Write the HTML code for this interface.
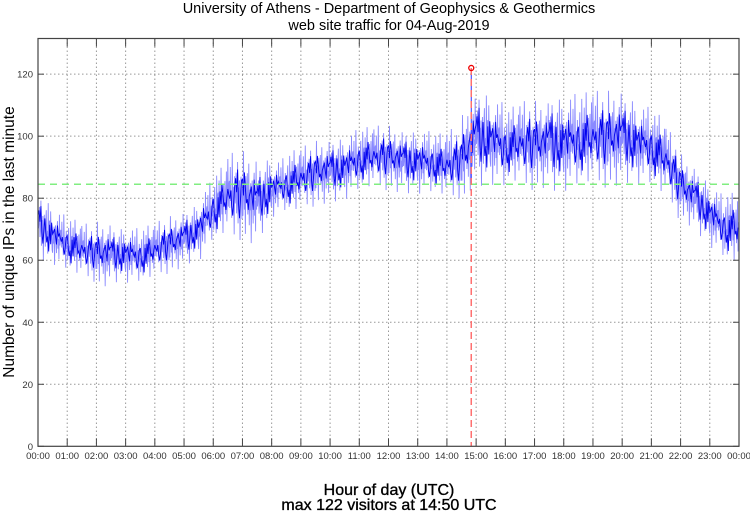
<!DOCTYPE html>
<html><head><meta charset="utf-8"><style>
body{margin:0;background:#fff;}
svg{display:block;font-family:"Liberation Sans",sans-serif;}
</style></head><body>
<svg id="chart" width="750" height="511" viewBox="0 0 750 511">
<text x="389" y="13" text-anchor="middle" font-size="14.5">University of Athens - Department of Geophysics &amp; Geothermics</text>
<text x="389" y="30" text-anchor="middle" font-size="14.5">web site traffic for 04-Aug-2019</text>
<text transform="translate(14,242) rotate(-90)" text-anchor="middle" font-size="15.5">Number of unique IPs in the last minute</text>
<text x="389" y="495" text-anchor="middle" font-size="16" stroke="#000" stroke-width="0.35">Hour of day (UTC)</text>
<text x="389" y="510" text-anchor="middle" font-size="16" stroke="#000" stroke-width="0.35">max 122 visitors at 14:50 UTC</text>
<g id="grid"></g><g id="series"></g><g id="axes"></g>
</svg>
<script>
// half-hour bins, estimated mean visitors
const binHours = [0,0.5,1,1.5,2,2.5,3,3.5,4,4.5,5,5.5,6,6.5,7,7.5,8,8.5,9,9.5,10,10.5,11,11.5,12,12.5,13,13.5,14,14.5,15,15.5,16,16.5,17,17.5,18,18.5,19,19.5,20,20.5,21,21.5,22,22.5,23,23.5];
const binMean = [72,68,65,63,62,62,62,61,63,65,67,70,76,80,81,79,83,84,86,88,89,90,92,93,93,92,92,91,90,92,100,99,96,97,97,98,98,98,99,99,100,98,96,92,84,80,75,70];
const binSpread = [8,7,7,7,8,7,7,7,7,7,7,8,9,11,11,9,7,8,8,8,8,8,8,8,8,8,8,8,9,11,12,11,10,11,11,12,12,12,12,12,11,10,10,9,8,8,8,9];
const yTicks = [0,20,40,60,80,100,120];
const xTickLabels = ["00:00","01:00","02:00","03:00","04:00","05:00","06:00","07:00","08:00","09:00","10:00","11:00","12:00","13:00","14:00","15:00","16:00","17:00","18:00","19:00","20:00","21:00","22:00","23:00","00:00"];
const maxHour = 14 + 50/60;
const maxValue = 122;
const refLevel = 84.5;

const L=38,R=739,T=38.5,B=446.3,YMAX=131.5;
const X=h=>L+(R-L)*h/24;
const Y=v=>B-(B-T)*v/YMAX;
const NS="http://www.w3.org/2000/svg";
function mk(tag,parent,attrs){const e=document.createElementNS(NS,tag);for(const k in attrs)e.setAttribute(k,attrs[k]);parent.appendChild(e);return e;}
const grid=document.getElementById('grid'),axes=document.getElementById('axes'),series=document.getElementById('series');
mk('rect',grid,{x:L,y:T,width:R-L,height:B-T,fill:'#fff'});
yTicks.forEach(v=>{
  if(v>0){const g=mk('line',grid,{x1:L,x2:R,y1:Y(v),y2:Y(v),stroke:'#999','stroke-dasharray':'1.5,2.5','stroke-width':1});
  
  }
  const t=mk('text',axes,{x:L-5,y:Y(v)+3.5,'text-anchor':'end','font-size':9.5,fill:'#333'});t.textContent=v;
  
  
  mk('line',axes,{x1:L,x2:L+6,y1:Y(v),y2:Y(v),stroke:'#444'});
  mk('line',axes,{x1:R,x2:R-6,y1:Y(v),y2:Y(v),stroke:'#444'});
});
xTickLabels.forEach((lab,i)=>{
  const x=X(i);
  if(i>0&&i<24){const g=mk('line',grid,{x1:x,x2:x,y1:T,y2:B,stroke:'#999','stroke-dasharray':'1.5,2.5','stroke-width':1});
  
  }
  mk('line',axes,{x1:x,x2:x,y1:B,y2:B-8,stroke:'#444'});
  mk('line',axes,{x1:x,x2:x,y1:T,y2:T+8,stroke:'#444'});
  const t=mk('text',axes,{x:x,y:459,'text-anchor':'middle','font-size':9.5,fill:'#333'});t.textContent=lab;
  
  
});
const frame=mk('rect',axes,{x:L,y:T,width:R-L,height:B-T,fill:'none',stroke:'#444','stroke-width':1.2});



// texture multipliers (visual jitter shape, not data)
const tex=[0.5,-0.3,0.9,-0.1,0.2,-0.6,1.3,0.1,-0.4,0.3,-1.1,0.6,-0.2,0.05,0.7,-0.5,-0.15,1.0,-0.8,0.25,-0.35,0.45,-1.3,0.15,0.55,-0.05,-0.7,0.35,0.8,-0.45,0.0,-0.9,1.15,-0.25,0.4];
const N=tex.length;
function buildPts(scale,off,step){
  const pts=[];
  for(let b=0;b<binHours.length;b++){
    const next=b+1<binHours.length?binMean[b+1]:binMean[b];
    for(let k=0;k<30;k+=step){
      const f=k/30, h=binHours[b]+0.5*f;
      const m=binMean[b]+(next-binMean[b])*f;
      const v=m+binSpread[b]*scale*tex[(b*7+k+off)%N];
      pts.push(X(h).toFixed(2)+','+Y(v).toFixed(2));
    }
  }
  return pts.join(' ');
}
const l1=mk('polyline',series,{points:buildPts(1.0,11,1),fill:'none',stroke:'#8a8aff','stroke-width':0.9});


const l2=mk('polyline',series,{points:buildPts(0.6,0,2),fill:'none',stroke:'#0000ee','stroke-width':0.9});


const ref=mk('line',series,{x1:L,x2:R,y1:Y(refLevel),y2:Y(refLevel),stroke:'#80ee80','stroke-width':1.5,'stroke-dasharray':'7,5'});


const spike=mk('line',series,{x1:X(maxHour),x2:X(maxHour),y1:Y(binMean[29]-6),y2:Y(maxValue),stroke:'#3030ff','stroke-width':1});


const vl=mk('line',series,{x1:X(maxHour),x2:X(maxHour),y1:Y(maxValue),y2:B,stroke:'#ff7070','stroke-width':1.5,'stroke-dasharray':'7,4'});


const mc=mk('circle',series,{cx:X(maxHour),cy:Y(maxValue),r:2.5,fill:'none',stroke:'#ee0000','stroke-width':1.3});


</script>
</body></html>
